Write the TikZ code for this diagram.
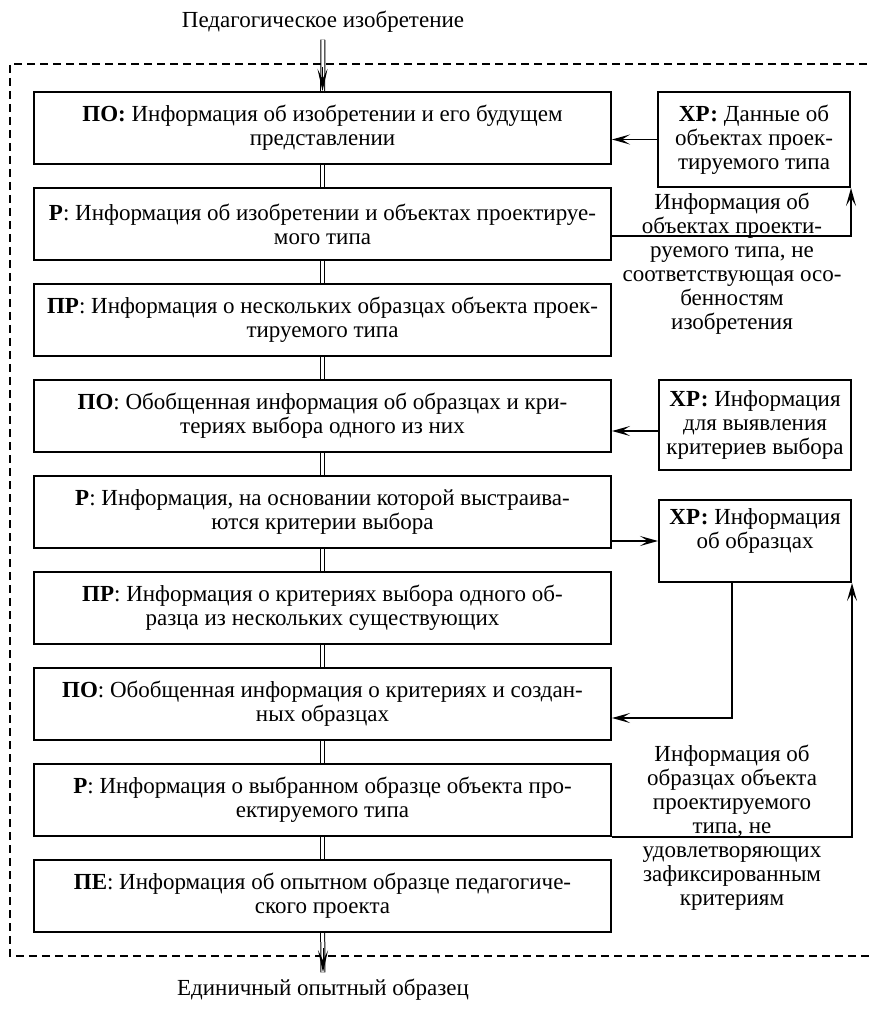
\documentclass[tikz,border=0pt]{standalone}
\usepackage{fontspec}
\setmainfont{Liberation Serif}
\usepackage{tikz}
\usetikzlibrary{arrows.meta}

\begin{document}
\begin{tikzpicture}[node distance=48pt, font=\fontsize{11.5}{12}\selectfont,
                    blk/.style={draw, line width=1pt, minimum width=288.5pt, minimum height=36pt, align=center, inner sep=1pt},
                    xr/.style={draw, line width=1pt, minimum width=96pt, align=center, inner sep=2pt},
                    lbl/.style={align=center, inner sep=0pt},
                    dbl/.style={double, line width=0.5pt, double distance=1.5pt},
                    arr/.style={line width=0.9pt, -{Stealth[length=9pt, width=5pt, inset=4pt]}},
                    thinarr/.style={line width=0.5pt, -{Stealth[length=11pt, width=5pt, inset=5pt]}}]
\useasboundingbox (0,0) rectangle (435pt,-505pt);

% boundary of the process
\draw[line width=0.75pt, dash pattern=on 4pt off 2.5pt]
  (440pt,-32pt) -- (5pt,-32pt) -- (5pt,-478pt) -- (440pt,-478pt);

\node (src) at (161.5pt,-11pt) {Педагогическое изобретение};
\node (res) at (161.5pt,-495pt) {Единичный опытный образец};

\node[blk] (po1) at (161.25pt,-64pt) {\textbf{ПО:} Информация об изобретении и его будущем\\представлении};
\node[blk] (r1) [below of=po1] {\textbf{Р}: Информация об изобретении и объектах проектируе-\\мого типа};
\node[blk] (pr1) [below of=r1] {\textbf{ПР}: Информация о нескольких образцах объекта проек-\\тируемого типа};
\node[blk] (po2) [below of=pr1] {\textbf{ПО}: Обобщенная информация об образцах и кри-\\териях выбора одного из них};
\node[blk] (r2) [below of=po2] {\textbf{Р}: Информация, на основании которой выстраива-\\ются критерии выбора};
\node[blk] (pr2) [below of=r2] {\textbf{ПР}: Информация о критериях выбора одного об-\\разца из нескольких существующих};
\node[blk] (po3) [below of=pr2] {\textbf{ПО}: Обобщенная информация о критериях и создан-\\ных образцах};
\node[blk] (r3) [below of=po3] {\textbf{Р}: Информация о выбранном образце объекта про-\\ектируемого типа};
\node[blk] (pe) [below of=r3] {\textbf{ПЕ}: Информация об опытном образце педагогиче-\\ского проекта};

\node[xr, minimum height=47.5pt] (xr1) at (377pt,-69.75pt) {\textbf{ХР:} Данные об\\объектах проек-\\тируемого типа};
\node[xr, minimum height=45pt] (xr2) at (377.5pt,-212.5pt) {\textbf{ХР:} Информация\\для выявления\\критериев выбора};
\node[xr, minimum height=41pt] (xr3) at (377.5pt,-270.5pt) {\textbf{ХР:} Информация\\об образцах\\~};

\node[lbl] (lbl1) at (366pt,-132pt) {Информация об\\объектах проекти-\\руемого типа, не\\соответствующая осо-\\бенностям\\изобретения};
\node[lbl] (lbl2) at (366pt,-414pt) {Информация об\\образцах объекта\\проектируемого\\типа, не\\удовлетворяющих\\зафиксированным\\критериям};

% main chain
\draw[dbl] (src) -- (po1);
\draw[thinarr] ([yshift=12pt]po1.north) -- (po1.north);
\draw[dbl] (po1) -- (r1);
\draw[dbl] (r1) -- (pr1);
\draw[dbl] (pr1) -- (po2);
\draw[dbl] (po2) -- (r2);
\draw[dbl] (r2) -- (pr2);
\draw[dbl] (pr2) -- (po3);
\draw[dbl] (po3) -- (r3);
\draw[dbl] (r3) -- (pe);
\draw[dbl] (pe) -- (res);
\draw[thinarr] ([yshift=12pt]res.north) -- (res.north);

% side connectors
\draw[arr] (xr1) -- (xr1 -| po1.east);
\draw[arr] ([yshift=-6pt]r1.east) -| (xr1.south east);
\draw[arr] ([yshift=-3pt]xr2.west) -- ([yshift=-3pt]xr2.west -| po2.east);
\draw[arr] (xr3 -| r2.east) -- (xr3);
\draw[arr] ([xshift=-11.5pt]xr3.south) |- ([yshift=-7pt]po3.east);
\draw[arr] (r3.south east) -| (xr3.south east);
\end{tikzpicture}
\end{document}
